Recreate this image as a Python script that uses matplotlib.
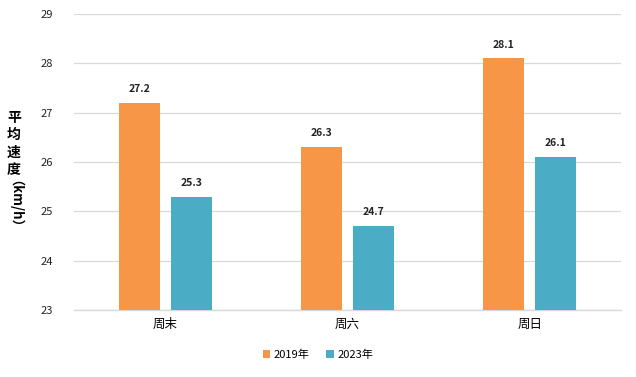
import matplotlib
matplotlib.use("Agg")
import matplotlib.pyplot as plt
import numpy as np

plt.rcParams['font.family'] = ['Noto Sans CJK SC', 'DejaVu Sans']

categories = ['周末', '周六', '周日']
series_names = ['2019年', '2023年']
v2019 = [27.2, 26.3, 28.1]
v2023 = [25.3, 24.7, 26.1]
yticks = [23, 24, 25, 26, 27, 28, 29]

fig = plt.figure(figsize=(6.36, 3.77), dpi=100)
ax = fig.add_axes([74/636, 1-310/377, (621-74)/636, (310-14)/377])

x = np.arange(len(categories))
w = 0.225
gap = 0.06
colors = ['#F79646', '#4BACC6']
for i, (vals, c, name) in enumerate(zip([v2019, v2023], colors, series_names)):
    off = (-1 if i == 0 else 1) * (w + gap) / 2
    bars = ax.bar(x + off, np.array(vals) - 23, width=w, bottom=23, color=c, label=name, zorder=3)
    for xi, v in zip(x + off, vals):
        ax.text(xi, v + 0.18, f'{v}', ha='center', va='bottom', fontsize=7.5, fontweight='bold', color='#222222')

ax.set_xlim(-0.5, 2.5)
ax.set_ylim(23, 29)
ax.set_yticks(yticks)
ax.set_yticklabels([str(t) for t in yticks], fontsize=8, color='#222222')
ax.set_xticks(x)
ax.set_xticklabels(categories, fontsize=9)
ax.tick_params(axis='both', length=0)
ax.tick_params(axis='y', pad=15)
ax.tick_params(axis='x', pad=6)
ax.grid(axis='y', color='#d9d9d9', linewidth=0.9, zorder=0)
for s in ['left', 'right', 'top']:
    ax.spines[s].set_visible(False)
ax.spines['bottom'].set_color('#d9d9d9')
ax.spines['bottom'].set_linewidth(1.0)

fig.text(14/636, 1-144/377, '平\n均\n速\n度', ha='center', va='center', fontsize=10, fontweight='bold', linespacing=1.3)
fig.text(8/636, 1-210/377, '（km/h）', ha='center', va='center', fontsize=9.5, fontweight='bold', rotation=-90)

leg = fig.legend(loc='center', bbox_to_anchor=(0.5, 1-355/377), ncol=2, frameon=False,
                 fontsize=8, handlelength=0.7, handleheight=0.7, handletextpad=0.3, columnspacing=1.5)

fig.savefig('out.png', dpi=100)
